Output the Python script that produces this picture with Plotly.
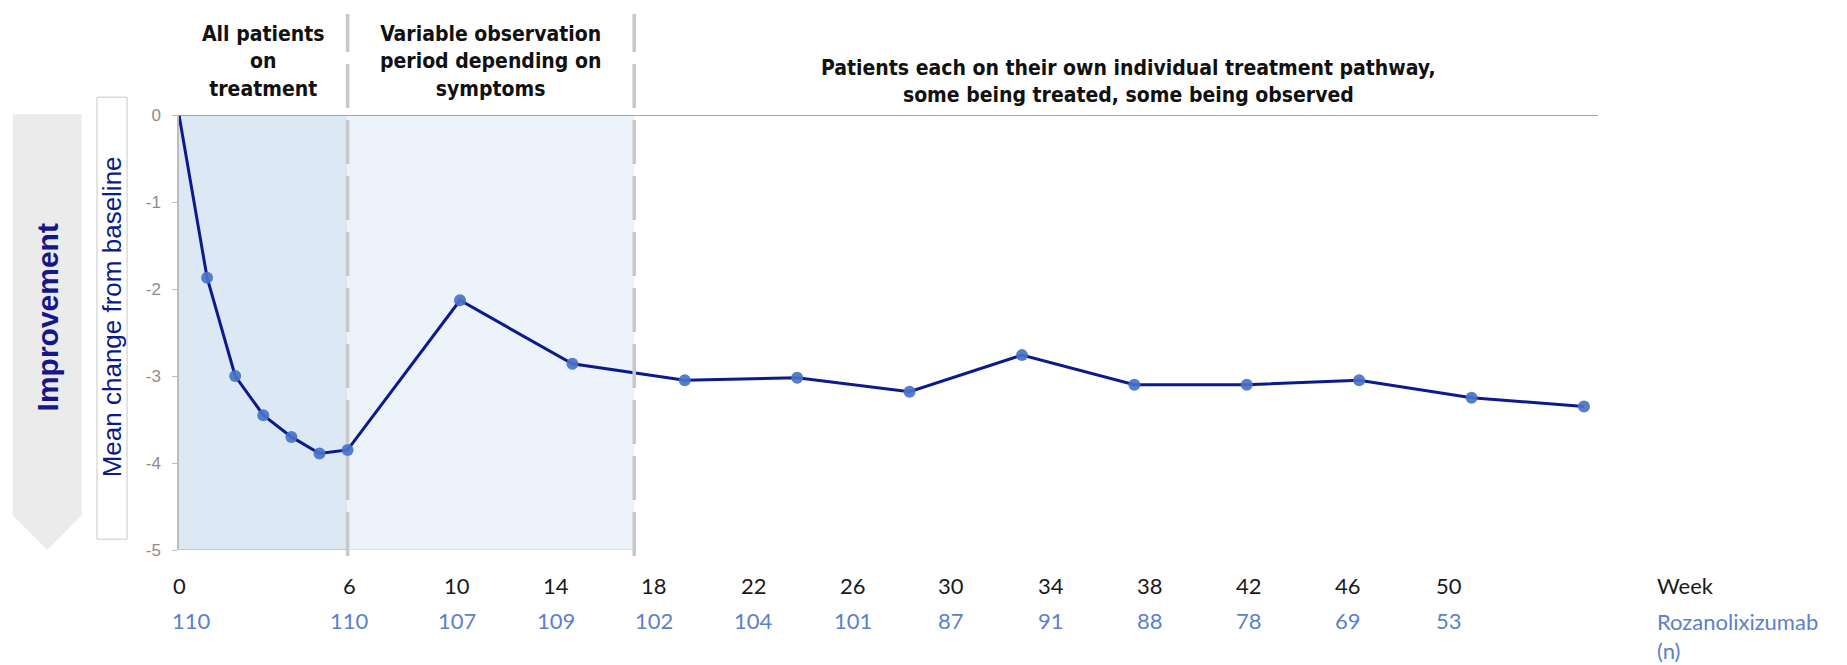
import plotly.graph_objects as go

# Mean change from baseline over time
weeks = [0, 1, 2, 3, 4, 5, 6, 10, 14, 18, 22, 26, 30, 34, 38, 42, 46, 50]
mean_change = [0, -1.87, -3.0, -3.45, -3.7, -3.89, -3.85, -2.13, -2.86,
               -3.05, -3.02, -3.18, -2.76, -3.1, -3.1, -3.05, -3.25, -3.35]

# Label table below the axis
week_labels = ["0", "6", "10", "14", "18", "22", "26", "30", "34", "38", "42", "46", "50"]
n_patients = ["110", "110", "107", "109", "102", "104", "101", "87", "91", "88", "78", "69", "53"]

# y-axis ticks
y_ticks = [0, -1, -2, -3, -4, -5]
y_tick_text = ["0", "-1", "-2", "-3", "-4", "-5"]

# Phase boundaries (weeks)
phase_edges = [0, 6, 16.2]
phase_titles = [
    "All patients<br>on<br>treatment",
    "Variable observation<br>period depending on<br>symptoms",
    "Patients each on their own individual treatment pathway,<br>some being treated, some being observed",
]

NAVY = "#0b1a8c"
DOT = "#4a72c8"
NBLUE = "#5b80cc"
GRID_GREY = "#c8c8c8"
X_MAX = 50.5

fig = go.Figure()

fig.add_trace(go.Scatter(
    x=weeks, y=mean_change, mode="lines+markers",
    line=dict(color=NAVY, width=3),
    marker=dict(color=DOT, size=[0] + [12] * (len(weeks) - 1), opacity=0.92,
                line=dict(width=0)),
    cliponaxis=False, showlegend=False, hoverinfo="x+y",
))

shapes = []
# shaded phases
shapes.append(dict(type="rect", xref="x", yref="y", x0=phase_edges[0], x1=phase_edges[1],
                   y0=-5, y1=0, fillcolor="#dde8f5", line_width=0, layer="below"))
shapes.append(dict(type="rect", xref="x", yref="y", x0=phase_edges[1], x1=phase_edges[2],
                   y0=-5, y1=0, fillcolor="#ecf3fb", line_width=0, layer="below"))
# baseline at zero
shapes.append(dict(type="line", xref="x", yref="y", x0=0, x1=X_MAX, y0=0, y1=0,
                   line=dict(color="#8a8a8a", width=1.5)))
# bottom edge of the shaded phases
shapes.append(dict(type="line", xref="x", yref="y", x0=0, x1=phase_edges[1], y0=-5, y1=-5,
                   line=dict(color="#bdbdbd", width=1.5)))
shapes.append(dict(type="line", xref="x", yref="y", x0=phase_edges[1], x1=phase_edges[2], y0=-5, y1=-5,
                   line=dict(color="#d6e2f1", width=1.5)))
# dashed phase separators
for xe in phase_edges[1:]:
    shapes.append(dict(type="line", xref="x", yref="paper", x0=xe, x1=xe, y0=-0.014, y1=1.232,
                       line=dict(color=GRID_GREY, width=3.5, dash="44px,12px")))
# "Improvement" down arrow
ax0, ax1, axm = -0.1172, -0.0686, -0.0929
shapes.append(dict(type="path", xref="paper", yref="paper",
                   path=f"M {ax0} 1.002 L {ax1} 1.002 L {ax1} 0.080 L {axm} 0.0 L {ax0} 0.080 Z",
                   fillcolor="#ebebeb", line_width=0))
# box around the y title
shapes.append(dict(type="rect", xref="paper", yref="paper", x0=-0.0578, x1=-0.0366, y0=0.025, y1=1.041,
                   line=dict(color="#c8c8c8", width=1), fillcolor="rgba(0,0,0,0)"))

annotations = []
head_font = dict(family="Liberation Sans Narrow, DejaVu Sans Condensed, Arial Narrow, sans-serif",
                 size=21, color="#111111")
head_x = [3, 11.1, 33.8]
head_y = [1.122, 1.122, 1.076]
for t, hx, hy in zip(phase_titles, head_x, head_y):
    annotations.append(dict(text=f"<b>{t}</b>", x=hx, y=hy, xref="x", yref="paper",
                            showarrow=False, font=head_font, xanchor="center", yanchor="middle"))

# label slot centres for the week / n table (in axis units)
slot_x = [0, 6.08, 9.89, 13.4, 16.9, 20.45, 23.97, 27.49, 31.05, 34.57, 38.09, 41.61, 45.18]
tab_font = "Lato, Open Sans, sans-serif"
for i, (sx, wl, nl) in enumerate(zip(slot_x, week_labels, n_patients)):
    annotations.append(dict(text=wl, x=sx, y=-0.0805, xref="x", yref="paper", showarrow=False,
                            font=dict(family=tab_font, size=22, color="#1a1a1a"),
                            xanchor="center", yanchor="middle"))
    annotations.append(dict(text=nl, x=sx + (0.46 if i == 0 else 0), y=-0.163, xref="x", yref="paper",
                            showarrow=False, font=dict(family=tab_font, size=22, color=NBLUE),
                            xanchor="center", yanchor="middle"))
annotations.append(dict(text="Week", x=1.040, y=-0.0805, xref="paper", yref="paper", showarrow=False,
                        font=dict(family=tab_font, size=22, color="#1a1a1a"),
                        xanchor="left", yanchor="middle"))
annotations.append(dict(text="Rozanolixizumab<br>(n)", x=1.040, y=-0.163, xref="paper", yref="paper",
                        showarrow=False, align="left",
                        font=dict(family=tab_font, size=22, color=NBLUE),
                        xanchor="left", yanchor="top", yshift=15))

annotations.append(dict(text="Mean change from baseline", x=-0.0472, y=0.535, xref="paper", yref="paper",
                        textangle=-90, showarrow=False, xanchor="center", yanchor="middle",
                        font=dict(family="Liberation Sans, Arial, sans-serif", size=26, color=NAVY)))
annotations.append(dict(text="<b>Improvement</b>", x=-0.0929, y=0.535, xref="paper", yref="paper",
                        textangle=-90, showarrow=False, xanchor="center", yanchor="middle",
                        font=dict(family="Liberation Sans, Arial, sans-serif", size=30, color="#14168a")))

fig.update_layout(
    width=1847, height=665,
    margin=dict(l=179, r=249, t=115, b=115),
    paper_bgcolor="white", plot_bgcolor="white",
    shapes=shapes, annotations=annotations,
    xaxis=dict(range=[0, X_MAX], showgrid=False, zeroline=False, showline=False,
               showticklabels=False, ticks="", fixedrange=True),
    yaxis=dict(range=[-5, 0], tickvals=y_ticks, ticktext=y_tick_text, showgrid=False, zeroline=False,
               showline=True, linecolor="#bdbdbd", linewidth=1.5,
               ticks="outside", ticklen=5, tickcolor="#bdbdbd", ticklabelstandoff=8,
               tickfont=dict(family="Liberation Sans, Arial, sans-serif", size=17, color="#8c8c8c"),
               fixedrange=True),
)

fig.write_html("out.html")
